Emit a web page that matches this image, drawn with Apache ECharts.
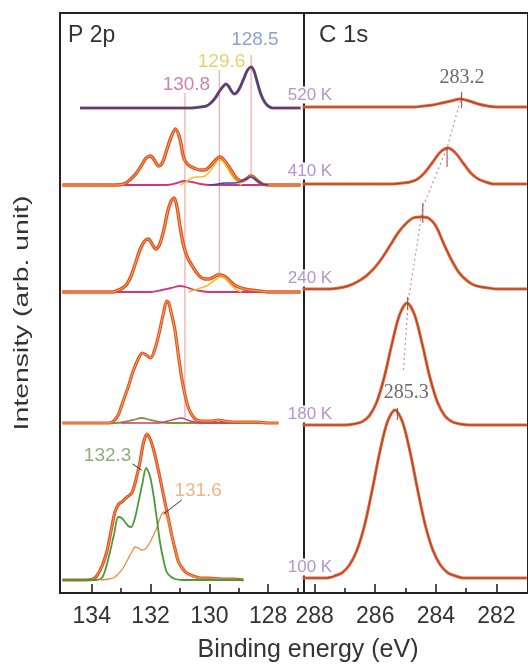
<!DOCTYPE html>
<html><head><meta charset="utf-8">
<script src="https://cdn.jsdelivr.net/npm/echarts@6/dist/echarts.min.js"></script>
<style>html,body{margin:0;padding:0;background:#fff}#c{width:528px;height:666px}</style>
</head><body><div id="c"></div>
<script>
// ---------- axes / labels ----------
const temps = ['100 K','180 K','240 K','410 K','520 K'];
const p2pOffsets = [13,170,301,408,485];   // baseline of each P 2p spectrum
const c1sOffsets = [15,168,304,409,486];   // baseline of each C 1s spectrum
const p2pTicks = [128,130,132,134];
const p2pMinor = [127,129,131,133];
const c1sTicks = [282,284,286,288];
const c1sMinor = [283,285,287];

// ---------- P 2p data: [binding energy, intensity above baseline] ----------
const p2p520 = [[134.4,0],[133.5,0],[132.5,0],[131.5,0],[130.6,0],[130.3,1],[130.1,2],[129.95,5],[129.8,10],[129.65,17],[129.52,22],[129.44,24],[129.35,22],[129.25,17],[129.15,14],[129.05,16],[128.95,21],[128.82,30],[128.7,38],[128.58,41],[128.48,37],[128.38,27],[128.25,14],[128.12,6],[128.0,2],[127.85,0],[127.0,0],[126.9,0]];

const p2p410Total = [[135.0,0],[134,0],[133.2,0],[132.9,1],[132.75,4],[132.6,8],[132.45,13],[132.3,20],[132.15,27],[132.0,29],[131.85,24],[131.72,19],[131.6,22],[131.45,35],[131.3,48],[131.15,56],[131.0,46],[130.88,28],[130.75,21],[130.6,18],[130.45,16],[130.3,15],[130.15,15],[130.0,18],[129.85,23],[129.72,27],[129.62,28],[129.5,25],[129.35,19],[129.2,12],[129.05,6],[128.9,4],[128.75,6],[128.6,9],[128.5,8],[128.35,4],[128.2,1],[128.0,0],[127.0,0],[126.9,0]];
const p2p410Yellow = [[131.0,0],[130.8,3],[130.6,7],[130.45,8],[130.3,8],[130.15,9],[130.0,13],[129.85,19],[129.72,24],[129.62,25],[129.5,22],[129.35,15],[129.2,8],[129.05,3],[128.9,0]];
const p2p410Blue = [[130.0,0],[129.7,1],[129.5,2],[129.3,2],[129.1,2],[128.9,4],[128.75,6],[128.6,8],[128.5,7],[128.35,4],[128.2,1],[128.0,0]];
const p2p410Magenta = [[135.0,0],[131.5,0],[131.1,2],[130.85,4],[130.6,3],[130.3,1],[130.0,0],[126.9,0]];

const p2p240Total = [[135.0,0],[134,0],[133.3,0],[133.1,2],[132.95,4],[132.8,8],[132.65,17],[132.5,30],[132.35,43],[132.2,51],[132.07,53],[131.95,48],[131.82,43],[131.7,47],[131.55,62],[131.42,80],[131.3,91],[131.2,94],[131.1,85],[131.0,66],[130.88,47],[130.75,35],[130.6,27],[130.45,20],[130.3,15],[130.15,13],[130.0,13],[129.85,15],[129.7,17],[129.6,17],[129.45,15],[129.3,11],[129.15,7],[129.0,5],[128.8,3],[128.6,2],[128.3,1],[128.0,0],[127.0,0],[126.9,0]];
const p2p240Yellow = [[130.7,0],[130.5,2],[130.3,4],[130.1,6],[129.9,10],[129.75,13],[129.62,15],[129.5,14],[129.35,10],[129.2,5],[129.05,2],[128.9,0]];
const p2p240Magenta = [[135.0,0],[132.0,0],[131.6,2],[131.3,4],[131.0,6],[130.8,5],[130.6,3],[130.3,1],[130.0,0],[126.9,0]];

const p2p180Total = [[135.0,0],[134,0],[133.4,0],[133.25,2],[133.1,8],[132.93,22],[132.75,37],[132.59,52],[132.42,64],[132.28,70],[132.15,68],[132.0,65],[131.85,74],[131.7,91],[131.56,110],[131.45,122],[131.38,120],[131.28,108],[131.17,93],[131.05,67],[130.94,45],[130.82,27],[130.71,15],[130.57,7],[130.43,3],[130.2,2],[129.9,2],[129.7,3],[129.5,2],[129.2,1],[128.8,1],[128.4,1],[128.0,0],[127.65,0]];
const p2p180Green = [[135.0,0],[133.2,0],[132.9,1],[132.6,3],[132.3,5],[132.0,3],[131.7,1],[131.4,0],[127.65,0]];
const p2p180Magenta = [[133.0,0],[131.7,0],[131.4,2],[131.15,4],[130.95,5],[130.75,3],[130.5,1],[130.2,0],[129.0,0]];

const p2p100Total = [[135.0,0],[134.2,0],[133.95,1],[133.83,4],[133.65,14],[133.49,28],[133.35,48],[133.21,68],[133.08,76],[132.98,78],[132.8,83],[132.64,87],[132.5,100],[132.36,118],[132.25,136],[132.13,146],[132.0,140],[131.85,125],[131.7,105],[131.56,85],[131.42,65],[131.28,45],[131.15,29],[131.05,18],[130.9,11],[130.77,7],[130.55,4],[130.3,2],[130.0,2],[129.6,1],[129.2,1],[128.84,0]];
const p2p100Green = [[135.0,0],[133.9,0],[133.66,2],[133.52,12],[133.38,28],[133.24,46],[133.1,63],[132.98,62],[132.87,58],[132.76,54],[132.66,53],[132.53,62],[132.41,78],[132.28,96],[132.15,112],[132.02,104],[131.9,85],[131.79,62],[131.68,38],[131.56,20],[131.45,8],[131.3,3],[131.17,1],[130.9,0],[128.84,0]];
const p2p100Orange = [[133.7,0],[133.4,1],[133.26,2],[133.1,6],[132.93,12],[132.75,22],[132.6,30],[132.53,33],[132.42,32],[132.3,30],[132.18,31],[132.07,35],[131.93,43],[131.79,52],[131.7,60],[131.62,66],[131.55,68],[131.45,63],[131.28,45],[131.15,29],[131.05,18],[130.9,11],[130.77,7],[130.55,3],[130.3,1],[130.0,0]];

// guide lines in P 2p: [energy, top intensity, bottom intensity]
const p2pGuides = [[130.83,500,175],[129.66,523,316],[128.58,538,416]];
// peak labels P 2p: [text, energy, intensity, colour]
const p2pLabels = [['128.5',128.45,553,'#6c8ad0'],['129.6',129.585,531,'#e3c44a'],['130.8',130.78,508,'#c65e9c'],['132.3',133.46,137,'#6a9e50'],['131.6',130.38,102,'#eaa468']];
const p2pLeaders = [[[132.61,129],[132.30,123]],[[130.94,93],[131.56,79]]];

// ---------- C 1s data ----------
const c1s100 = [[288.4,0],[287.6,0],[287.35,2],[287.1,5],[286.85,13],[286.6,28],[286.35,53],[286.1,88],[285.85,126],[285.6,156],[285.35,168],[285.1,156],[284.85,126],[284.6,88],[284.35,53],[284.1,28],[283.85,13],[283.6,5],[283.35,2],[283.1,0],[281.0,0]];
const c1s180 = [[288.4,0],[287.0,0],[286.7,1],[286.45,3],[286.2,9],[285.95,23],[285.7,48],[285.45,81],[285.2,110],[284.95,122],[284.7,110],[284.45,81],[284.2,48],[283.95,23],[283.7,9],[283.45,3],[283.2,1],[282.9,0],[281.0,0]];
const c1s240 = [[288.4,0],[287.5,0],[287.2,1],[286.9,3],[286.6,7],[286.3,13],[286.0,22],[285.75,32],[285.5,44],[285.25,56],[285.0,65],[284.75,71],[284.5,72],[284.25,71],[284.0,63],[283.75,46],[283.5,30],[283.25,17],[283.0,9],[282.75,4],[282.5,2],[282.25,1],[282.0,0],[281.0,0]];
const c1s410 = [[288.4,0],[285.4,0],[285.1,1],[284.85,2],[284.6,5],[284.35,12],[284.1,22],[283.85,32],[283.6,36],[283.35,31],[283.1,21],[282.85,11],[282.6,5],[282.35,2],[282.1,0],[281.0,0]];
const c1s520 = [[288.4,0],[284.7,0],[284.4,1],[284.1,2],[283.8,4],[283.5,6],[283.2,8],[282.9,6],[282.6,3],[282.3,1],[282.0,0],[281.0,0]];
// peak position trace (dotted) and peak markers: [energy, low, high]
const c1sTrace = [[283.15,497],[283.63,445],[284.43,386],[284.91,292],[285.07,223]];
const c1sMarks = [[283.15,485,501],[283.63,426,446],[284.43,370,390],[284.93,283,296],[285.27,173,185]];
const c1sLabels = [['283.2',283.14,515],['285.3',284.98,200]];

// ---------- build ----------
const sh = (arr, off) => arr.map(p => [p[0], p[1] + off]);
const series = [];
function line(data, grid, color, width, extra) {
  series.push(Object.assign({
    type:'line', xAxisIndex: grid===0?0:2, yAxisIndex: grid, data,
    showSymbol:false, symbol:'none', smooth:0.3, silent:true, z:3,
    lineStyle:{color, width}
  }, extra||{}));
}
const ORG='#e0521e', ORG_IN='#f6a868', BLUE='#3b4699', YEL='#e8c23c', MAG='#d6347a', GRN='#4a9a3a', OCOMP='#f08a40';

// P 2p guides (behind curves)
p2pGuides.forEach(g => line([[g[0],g[1]],[g[0],g[2]]], 0, '#e89a9a', 1, {smooth:false, z:1}));

// 520 K
line(sh(p2p520,p2pOffsets[4]),0,ORG,3);
line(sh(p2p520,p2pOffsets[4]),0,BLUE,2.2);
// 410 K
line(sh(p2p410Magenta,p2pOffsets[3]),0,MAG,1.8);
line(sh(p2p410Total,p2pOffsets[3]),0,ORG,3.4);
line(sh(p2p410Total,p2pOffsets[3]),0,ORG_IN,1);
line(sh(p2p410Yellow,p2pOffsets[3]),0,YEL,1.6);
line(sh(p2p410Blue,p2pOffsets[3]),0,BLUE,1.6);
// 240 K
line(sh(p2p240Magenta,p2pOffsets[2]),0,MAG,1.8);
line(sh(p2p240Total,p2pOffsets[2]),0,ORG,3.4);
line(sh(p2p240Total,p2pOffsets[2]),0,ORG_IN,1);
line(sh(p2p240Yellow,p2pOffsets[2]),0,YEL,1.6);
// 180 K
line(sh(p2p180Green,p2pOffsets[1]),0,'#7a9a3a',1.8);
line(sh(p2p180Magenta,p2pOffsets[1]),0,MAG,1.4);
line(sh(p2p180Total,p2pOffsets[1]),0,ORG,3.2);
line(sh(p2p180Total,p2pOffsets[1]),0,ORG_IN,1);
// 100 K
line(sh(p2p100Total,p2pOffsets[0]),0,ORG,3.2);
line(sh(p2p100Total,p2pOffsets[0]),0,ORG_IN,0.8);
line(sh(p2p100Orange,p2pOffsets[0]),0,OCOMP,1.3);
line(sh(p2p100Green,p2pOffsets[0]),0,GRN,1.8);
// leaders
p2pLeaders.forEach(l => line(l,0,'#333',1,{smooth:false,z:5}));

// P 2p labels
series.push({type:'scatter', xAxisIndex:0, yAxisIndex:0, symbolSize:0, silent:true, z:6,
  data: p2pLabels.map(l => ({value:[l[1],l[2]], label:{show:true, position:'inside', formatter:l[0], color:l[3], fontSize:19, fontFamily:'Liberation Sans'}}))});

// C 1s
[c1s100,c1s180,c1s240,c1s410,c1s520].forEach((d,i) => {
  line(sh(d,c1sOffsets[i]),1,'#e8663a',3);
  line(sh(d,c1sOffsets[i]),1,'#8c3a22',0.8);
});
line(c1sTrace,1,'#d98a9a',1.2,{smooth:false, lineStyle:{color:'#d98a9a',width:1.2,type:[2,3]}, z:2});
c1sMarks.forEach(m => line([[m[0],m[1]],[m[0],m[2]]],1,'#8c4a3a',1,{smooth:false,z:4}));
series.push({type:'scatter', xAxisIndex:2, yAxisIndex:1, symbolSize:0, silent:true, z:6,
  data: c1sLabels.map(l => ({value:[l[1],l[2]], label:{show:true, position:'inside', formatter:l[0], color:'#444', fontSize:20, fontFamily:'Liberation Serif'}}))});

function xAx(grid, min, max, major, minor, isMinor) {
  return {type:'value', gridIndex:grid, position:'bottom', min, max, inverse:true,
    axisLine:{show:false}, splitLine:{show:false},
    axisTick:{show:true, inside:true, length:isMinor?5:9, customValues:isMinor?minor:major, lineStyle:{color:'#222', width:1.6}},
    axisLabel:{show:!isMinor, customValues:major, fontSize:23, color:'#333', margin:12, fontFamily:'Liberation Sans'}};
}

const chart = echarts.init(document.getElementById('c'), null, {renderer:'canvas'});
chart.setOption({
  animation:false,
  backgroundColor:'#fff',
  grid:[
    {left:60, top:13, width:244, height:580, show:true, borderColor:'#222', borderWidth:2, backgroundColor:'transparent'},
    {left:304, top:13, right:-6, height:580, show:true, borderColor:'#222', borderWidth:2, backgroundColor:'transparent'}
  ],
  xAxis:[
    xAx(0,126.78,135.08,p2pTicks,p2pMinor,false),
    xAx(0,126.78,135.08,p2pTicks,p2pMinor,true),
    xAx(1,280.96,288.35,c1sTicks,c1sMinor,false),
    xAx(1,280.96,288.35,c1sTicks,c1sMinor,true)
  ],
  yAxis:[
    {type:'value', gridIndex:0, min:0, max:580, show:false},
    {type:'value', gridIndex:1, min:0, max:580, show:false}
  ],
  graphic:[
    {type:'text', x:68, y:36, style:{text:'P 2p', fontSize:23, fill:'#333', fontFamily:'Liberation Sans', verticalAlign:'middle'}},
    {type:'text', x:319, y:35, style:{text:'C 1s', fontSize:24, fill:'#333', fontFamily:'Liberation Sans', verticalAlign:'middle'}},
    {type:'text', x:308, y:650, style:{text:'Binding energy (eV)', fontSize:25, fill:'#333', fontFamily:'Liberation Sans', align:'center', verticalAlign:'middle'}},
    {type:'text', x:22, y:313, rotation:Math.PI/2, scaleX:1.35, style:{text:'Intensity (arb. unit)', fontSize:21, fill:'#333', fontFamily:'Liberation Sans', align:'center', verticalAlign:'middle'}},
    ...temps.map((t,i) => ({type:'text', x:310, y:[567,414,278,171,95][i], z:10, style:{text:t, fontSize:17, fill:'#b593d2', fontFamily:'Liberation Sans', align:'center', verticalAlign:'middle', backgroundColor:'#fff', padding:[0,1]}}))
  ],
  series
});
</script></body></html>
